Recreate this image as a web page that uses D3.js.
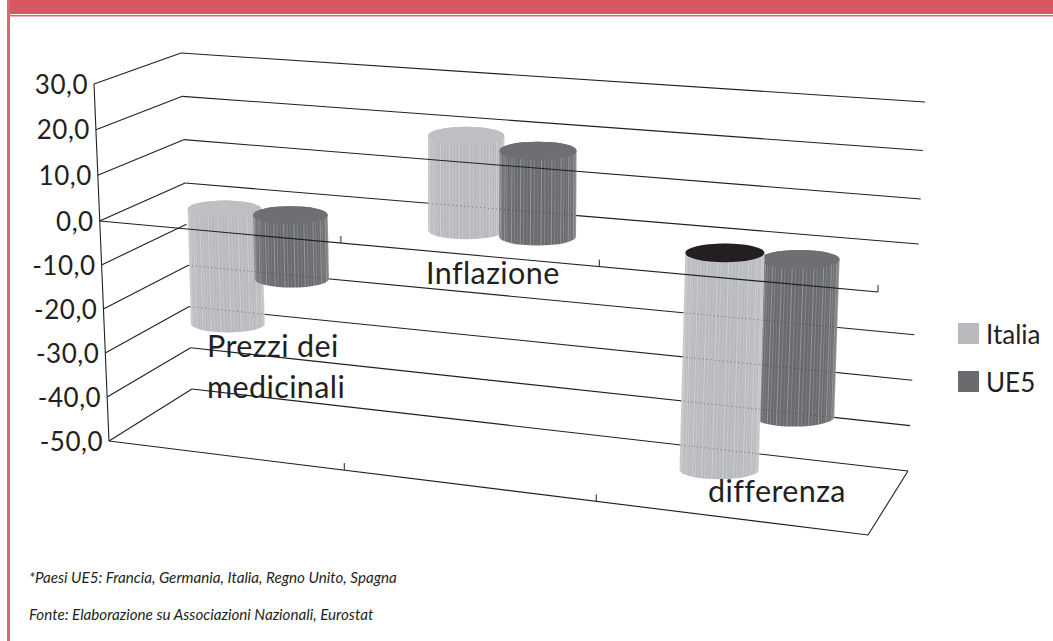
<!DOCTYPE html>
<html>
<head>
<meta charset="utf-8">
<script src="https://cdn.jsdelivr.net/npm/d3@7"></script>
<style>
  body { margin: 0; background: #fff; }
  svg { display: block; }
  text { font-family: Lato, "Open Sans", sans-serif; font-weight: 400; fill: #231f20; }
</style>
</head>
<body>
<div id="chart"></div>
<script>
// ── Data ─────────────────────────────────
const categories = ['Prezzi dei medicinali', 'Inflazione', 'differenza'];
const seriesNames = ['Italia', 'UE5'];
const italia = [-26.6, 20.6, -47.2];
const ue5 = [-14.7, 18.6, -34];
const yTicks = [30, 20, 10, 0, -10, -20, -30, -40, -50];
const yTickLabels = ['30,0', '20,0', '10,0', '0,0', '-10,0', '-20,0', '-30,0', '-40,0', '-50,0'];
const notes = [
  '*Paesi UE5: Francia, Germania, Italia, Regno Unito, Spagna',
  'Fonte: Elaborazione su Associazioni Nazionali, Eurostat'
];

// ── Layout ───────────────────────────────
const W = 1053, H = 641;
const INK = '#231f20', RED = '#d95763', BORDER = '#dd6672';
const colors = { Italia: '#b9babd', UE5: '#6a6b6e' };
const tops = { Italia: '#bfc0c3', UE5: '#6e6f72' };

const svg = d3.select('#chart').append('svg').attr('width', W).attr('height', H);

// frame of the 3D box: one scale per vertical edge
const frontLeftX = d3.scaleLinear().domain([30, -50]).range([94, 109]);
const frontLeftY = d3.scaleLinear().domain([30, 0, -50]).range([84, 221, 441]);
const backLeftX = d3.scaleLinear().domain([30, -50]).range([181, 192]);
const backLeftY = d3.scaleLinear().domain([30, 0, -50]).range([53, 183, 389]);
const backRightX = d3.scaleLinear().domain([30, -50]).range([925, 908]);
const backRightY = d3.scaleLinear().domain([30, 10, 0, -50]).range([102, 199, 244, 471]);
const frontRightX = d3.scaleLinear().domain([0, -50]).range([878, 868]);
const frontRightY = d3.scaleLinear().domain([0, -50]).range([292, 535]);

// position along the category axis, 0..1 across the box
const slotU = d3.scaleLinear().domain([0, 1, 2, 3]).range([0, 0.3108, 0.647, 1]);
const frontU = d3.scaleLinear().domain([0, 1, 2, 3]).range([0, 0.31, 0.642, 1]);
const groupT = d3.scaleBand().domain(seriesNames).range([0.21, 0.77]);
const radius = d3.scaleLinear().domain([0, 1]).range([36.5, 40.5]);

const mix = (a, b, k) => a + (b - a) * k;

// u across, v value, d depth (0 front, 1 back)
function project(u, v, d) {
  const xl = mix(frontLeftX(v), backLeftX(v), d), xr = mix(frontRightX(v), backRightX(v), d);
  const yl = mix(frontLeftY(v), backLeftY(v), d), yr = mix(frontRightY(v), backRightY(v), d);
  return [mix(xl, xr, u), mix(yl, yr, u)];
}

// ── Header band and left rule ────────────
svg.append('rect').attr('x', 7).attr('y', 0).attr('width', W - 7).attr('height', 14).attr('fill', RED);
svg.append('rect').attr('x', 7).attr('y', 15).attr('width', W - 7).attr('height', 1.5).attr('fill', BORDER);
svg.append('rect').attr('x', 7).attr('y', 0).attr('width', 3).attr('height', H).attr('fill', BORDER);

const line = d3.line();
const gridStyle = sel => sel.attr('fill', 'none').attr('stroke', INK).attr('stroke-width', 1.1);

// ── Walls ────────────────────────────────
const wing = v => [project(0, v, 0), project(0, v, 1)];
const backRun = v => [project(0, v, 1), project(1, v, 1)];

yTicks.forEach(v => {
  svg.append('path').attr('d', line(wing(v))).call(gridStyle);
  if (v !== -10) svg.append('path').attr('d', line(backRun(v))).call(gridStyle);
});

svg.append('path').attr('d', line([project(0, 30, 0), project(0, -50, 0)])).call(gridStyle);
svg.append('path').attr('d', line([project(0, -50, 0), project(1, -50, 0), project(1, -50, 1)])).call(gridStyle);

// ── Cylinders ────────────────────────────
const cylinders = [];
categories.forEach((c, i) => {
  [italia, ue5].forEach((vals, s) => {
    const name = seriesNames[s];
    const t = i + groupT(name) + groupT.bandwidth() / 2;
    const u = slotU(t), v = vals[i];
    cylinders.push({ name, u, v, hi: Math.max(v, 0), lo: Math.min(v, 0), r: radius(u), cat: i });
  });
});
// further from the centre of view goes first
cylinders.sort((a, b) => Math.abs(b.u - 0.6) - Math.abs(a.u - 0.6));

function bodyPath(c) {
  const ry = c.r * 0.235;
  const [xt, yt] = project(c.u, c.hi, 0.5), [xb, yb] = project(c.u, c.lo, 0.5);
  return `M${xt - c.r},${yt}L${xb - c.r},${yb}A${c.r},${ry} 0 0 0 ${xb + c.r},${yb}L${xt + c.r},${yt}A${c.r},${ry} 0 0 0 ${xt - c.r},${yt}Z`;
}

const clip = svg.append('defs').append('clipPath').attr('id', 'cyl-clip');
cylinders.forEach(c => clip.append('path').attr('d', bodyPath(c)));

const stripeAngles = d3.range(1, 34).map(i => i * Math.PI / 34);

cylinders.forEach(c => {
  const g = svg.append('g');
  const ry = c.r * 0.235;
  const [xt, yt] = project(c.u, c.hi, 0.5), [xb, yb] = project(c.u, c.lo, 0.5);
  g.append('path').attr('d', bodyPath(c)).attr('fill', colors[c.name]);
  g.selectAll('line').data(stripeAngles).join('line')
    .attr('x1', a => xt + c.r * Math.cos(a)).attr('y1', a => yt + ry * Math.sin(a))
    .attr('x2', a => xb + c.r * Math.cos(a)).attr('y2', a => yb + ry * Math.sin(a))
    .attr('stroke', '#fff').attr('stroke-width', 0.8)
    .attr('stroke-opacity', (a, i) => i % 3 === 0 ? 0.38 : i % 3 === 1 ? 0.14 : 0.24);
  // the third group's Italia lid prints black in the original
  const lid = c.name === 'Italia' && c.cat === 2 ? INK : tops[c.name];
  g.append('ellipse').attr('cx', xt).attr('cy', yt).attr('rx', c.r).attr('ry', ry).attr('fill', lid);
});

// back lines showing through the cylinders
const through = svg.append('g').attr('clip-path', 'url(#cyl-clip)');
yTicks.filter(v => v <= 0 && v !== -10).forEach(v => {
  through.append('path').attr('d', line(backRun(v))).attr('fill', 'none')
    .attr('stroke', INK).attr('stroke-width', 0.9).attr('stroke-dasharray', '1 3').attr('stroke-opacity', 0.55);
});
yTicks.filter(v => v === 10 || v === 20).forEach(v => {
  through.append('path').attr('d', line(backRun(v))).call(gridStyle);
});

// ── Front axes and ticks ─────────────────
svg.append('path').attr('d', line([project(0, 0, 0), project(1, 0, 0)])).call(gridStyle);
[0, -50].forEach(v => {
  [1, 2, 3].forEach(i => {
    if (v === -50 && i === 3) return;
    const [x, y] = project(frontU(i), v, 0);
    svg.append('line').attr('x1', x).attr('x2', x).attr('y1', y).attr('y2', y - 7)
      .attr('stroke', INK).attr('stroke-width', 1);
  });
});

// ── Text ─────────────────────────────────
svg.selectAll('.ytick').data(yTicks).join('text').attr('class', 'ytick')
  .attr('x', v => frontLeftX(v) - 6).attr('y', v => frontLeftY(v) + 9.5)
  .attr('text-anchor', 'end').attr('font-size', 26).attr('letter-spacing', 0.5)
  .text((v, i) => yTickLabels[i]);

const labelLines = [['Prezzi dei', 'medicinali'], ['Inflazione'], ['differenza']];
const labelX = [207, 426, 708];
const labelY = [357, 284, 502];
labelLines.forEach((rows, i) => {
  rows.forEach((r, k) => {
    svg.append('text').attr('x', labelX[i]).attr('y', labelY[i] + k * 41)
      .attr('font-size', 30.5).attr('letter-spacing', 0.4).text(r);
  });
});

seriesNames.forEach((n, i) => {
  const y = 323 + i * 48;
  svg.append('rect').attr('x', 958).attr('y', y).attr('width', 21).attr('height', 21).attr('fill', colors[n]);
  svg.append('text').attr('x', 986).attr('y', y + 21).attr('font-size', 26).text(n);
});

notes.forEach((n, i) => {
  svg.append('text').attr('x', 29).attr('y', 583 + i * 36.5)
    .attr('font-size', 15.2).attr('font-weight', 300).attr('font-style', 'italic').attr('fill', '#3a3637').text(n);
});
</script>
</body>
</html>
